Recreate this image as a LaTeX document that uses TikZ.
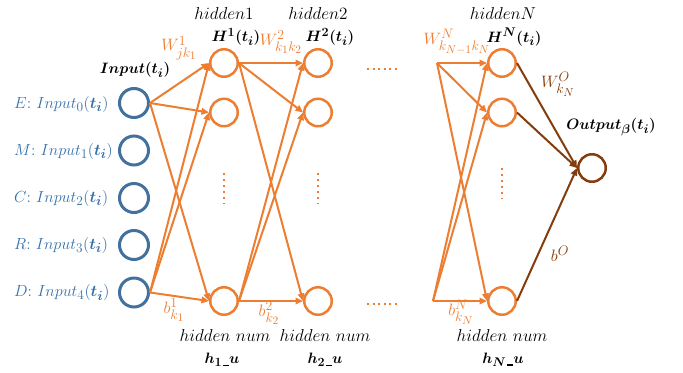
\documentclass[tikz,border=0pt]{standalone}
\usepackage{amsmath,bm,graphicx}
\usetikzlibrary{arrows.meta}
\DeclareMathSizes{14.4}{14.4}{12}{10}
\definecolor{inblue}{HTML}{41719C}
\definecolor{intext}{HTML}{3570AA}
\definecolor{hidorange}{HTML}{ED7D31}
\definecolor{outbrown}{HTML}{843C0C}
% label sizes: italic math a little wider than bold headings
\newcommand{\itlab}[1]{\scalebox{1.2}{#1}}
\newcommand{\inlab}[1]{\scalebox{1.12}{#1}}
\newcommand{\wlab}[1]{\scalebox{1.15}{#1}}
\newcommand{\bflab}[1]{\scalebox{1.05}{#1}}
\newcommand{\uscore}{\kern0.6pt\rule[-2.2pt]{5.5pt}{1.3pt}\kern0.6pt}

\begin{document}
\begin{tikzpicture}[x=1bp,y=-1bp,
  font=\fontsize{14.4}{17}\selectfont,
  inunit/.style={circle,draw=inblue,line width=3bp,minimum size=29bp,inner sep=0pt},
  hidunit/.style={circle,draw=hidorange,line width=2.5bp,minimum size=27.5bp,inner sep=0pt},
  outunit/.style={circle,draw=outbrown,line width=2.5bp,minimum size=27.5bp,inner sep=0pt},
  tip/.style={-{Triangle[length=7.5bp,width=6.5bp]}},
  link/.style={draw=hidorange,line width=2bp,tip},
  outlink/.style={draw=outbrown,line width=2bp,tip},
  vdots/.style={draw=hidorange,line width=2.2bp,dash pattern=on 2bp off 4bp},
  hdots/.style={draw=hidorange,line width=2.2bp,dash pattern=on 2bp off 3.6bp},
  lbl/.style={inner sep=0pt},
  inlbl/.style={lbl,anchor=west,text=intext},
  wlbl/.style={lbl,text=hidorange},
  olbl/.style={lbl,text=outbrown},
]
\useasboundingbox (0,0) rectangle (683,372);

% input layer
\node[inunit] (in0) at (134,103) {};
\node[inunit] (in1) at (134,150.5) {};
\node[inunit] (in2) at (134,198) {};
\node[inunit] (in3) at (134,245) {};
\node[inunit] (in4) at (134,292.5) {};
\node[lbl] (intitle) at (135,70) {\bflab{$\bm{Input(t_i)}$}};
\node[inlbl] (lab0) at (14,104) {\inlab{$E{:}\ Input_0(\bm{t_i})$}};
\node[inlbl] (lab1) at (14,151) {\inlab{$M{:}\ Input_1(\bm{t_i})$}};
\node[inlbl] (lab2) at (14,198) {\inlab{$C{:}\ Input_2(\bm{t_i})$}};
\node[inlbl] (lab3) at (14,245) {\inlab{$R{:}\ Input_3(\bm{t_i})$}};
\node[inlbl] (lab4) at (14,292.5) {\inlab{$D{:}\ Input_4(\bm{t_i})$}};

% hidden layer 1
\node[hidunit] (h1a) at (224,63) {};
\node[hidunit] (h1b) at (224,112.5) {};
\node[hidunit] (h1c) at (224,301) {};
% hidden layer 2
\node[hidunit] (h2a) at (318,63) {};
\node[hidunit] (h2b) at (318,112.5) {};
\node[hidunit] (h2c) at (318,301) {};
% hidden layer N
\node[hidunit] (hNa) at (502,63) {};
\node[hidunit] (hNb) at (502,112.5) {};
\node[hidunit] (hNc) at (502,301) {};
% output
\node[outunit] (out) at (592,168) {};

% layer headings
\node[lbl] (t1) at (224,14) {\itlab{$hidden1$}};
\node[lbl] (T1) at (236,37) {\bflab{$\bm{H^1(t_i)}$}};
\node[lbl] (t2) at (318,14) {\itlab{$hidden2$}};
\node[lbl] (T2) at (330,37) {\bflab{$\bm{H^2(t_i)}$}};
\node[lbl] (tN) at (503,14) {\itlab{$hiddenN$}};
\node[lbl] (TN) at (514,37) {\bflab{$\bm{H^N(t_i)}$}};
\node[lbl] (outtitle) at (611,127) {\bflab{$\bm{Output_{\beta}(t_i)}$}};

% layer footers
\node[lbl] (n1) at (225,336) {\itlab{$hidden\ num$}};
\node[lbl] (n2) at (325,336) {\itlab{$hidden\ num$}};
\node[lbl] (nN) at (502,336) {\itlab{$hidden\ num$}};
\node[lbl] (u1) at (222,360) {\bflab{$\bm{h_1}\uscore\bm{u}$}};
\node[lbl] (u2) at (325,360) {\bflab{$\bm{h_2}\uscore\bm{u}$}};
\node[lbl] (uN) at (503,360) {\bflab{$\bm{h_N}\uscore\bm{u}$}};

% weight and bias labels
\node[wlbl] (w1) at (179,48) {\wlab{$W^1_{jk_1}$}};
\node[wlbl] (w2) at (281,42) {\wlab{$W^2_{k_1k_2}$}};
\node[wlbl] (wN) at (457,42) {\wlab{$W^N_{k_{N-1}k_N}$}};
\node[wlbl] (b1) at (174,310) {\wlab{$b^1_{k_1}$}};
\node[wlbl] (b2) at (269,313) {\wlab{$b^2_{k_2}$}};
\node[wlbl] (bN) at (461,312) {\wlab{$b^N_{k_N}$}};
\node[olbl] (wO) at (558,84) {\wlab{$W^O_{k_N}$}};
\node[olbl] (bO) at (560,254) {\wlab{$b^O$}};

% free ends feeding layer N
\coordinate (fa) at (437,63);
\coordinate (fc) at (433,301);

% input -> hidden 1
\foreach \s in {in0,in4}
  \foreach \t in {h1a,h1b,h1c}
    \draw[link] (\s.east) -- (\t.west);
% hidden 1 -> hidden 2
\foreach \s in {h1a,h1c}
  \foreach \t in {h2a,h2b,h2c}
    \draw[link] (\s.east) -- (\t.west);
% ... -> hidden N
\foreach \s in {fa,fc}
  \foreach \t in {hNa,hNb,hNc}
    \draw[link] (\s) -- (\t.west);
% hidden N -> output
\foreach \s in {hNa,hNb,hNc}
  \draw[outlink] (\s.east) -- (out.west);

% ellipses for omitted units and layers
\draw[vdots] (224,173) -- (224,204);
\draw[vdots] (318,173) -- (318,204);
\draw[vdots] (502,168) -- (502,199);
\draw[hdots] (367,69) -- (399,69);
\draw[hdots] (367,304) -- (399,304);
\end{tikzpicture}
\end{document}
